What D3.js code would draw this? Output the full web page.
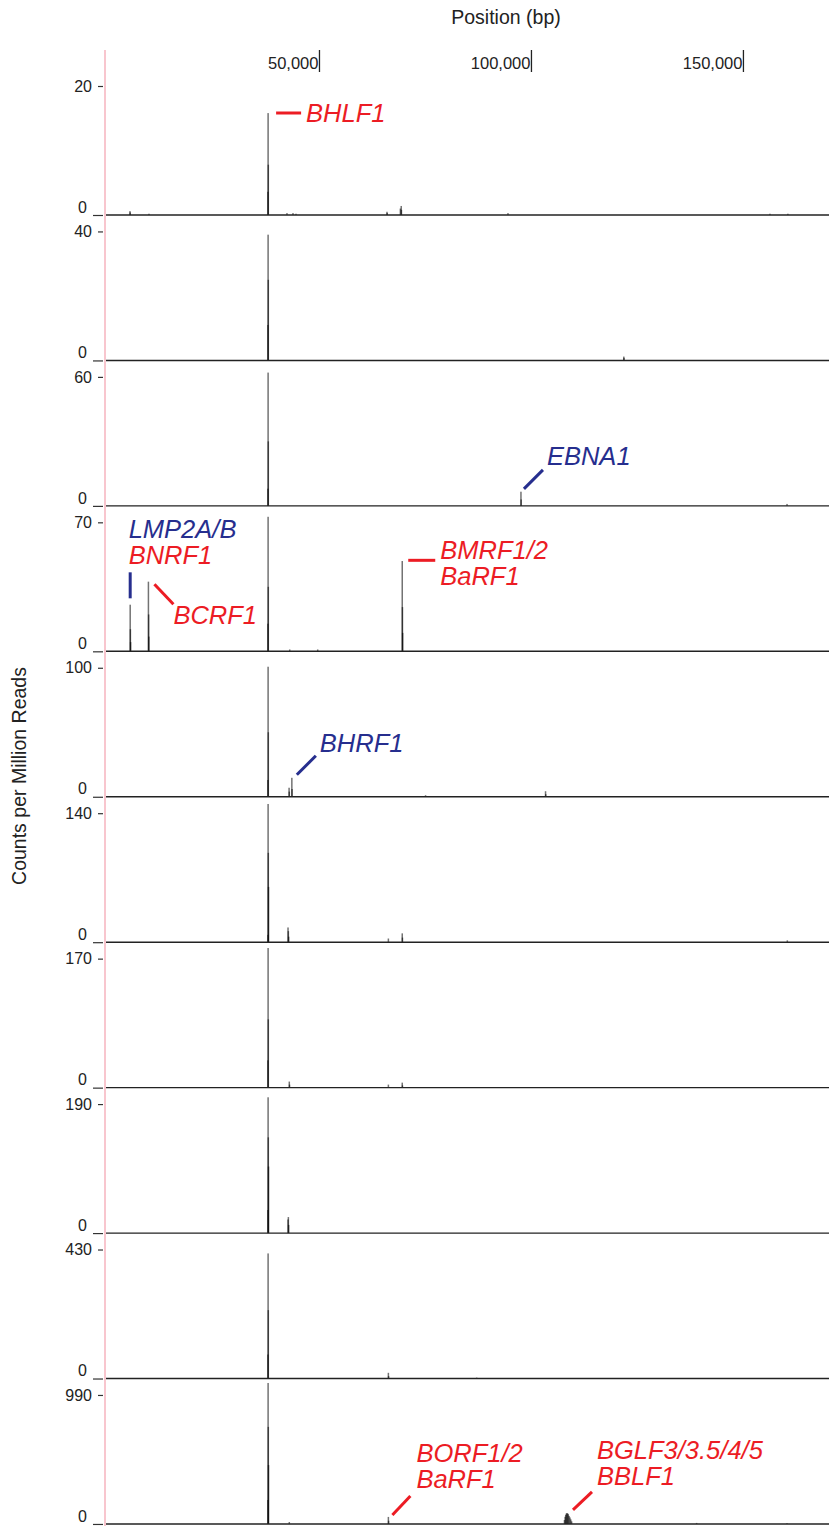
<!DOCTYPE html>
<html>
<head>
<meta charset="utf-8">
<script src="https://cdn.jsdelivr.net/npm/d3@7"></script>
<style>
  body { margin: 0; background: #fff; }
  svg { display: block; font-family: "Liberation Sans", Arial, sans-serif; }
</style>
</head>
<body>
<svg id="chart" width="829" height="1526"></svg>
<script>
// position ticks (bp)
var posTicks = [50000, 100000, 150000]
// max tick of each track
var trackMax = [20, 40, 60, 70, 100, 140, 170, 190, 430, 990]

// each track: [position (bp), counts per million]
var track1 = [[37950, 3.6], [38000, 15.8], [38050, 7.8], [5420, 0.6], [5470, 0.4], [9900, 0.2],
  [42450, 0.3], [43870, 0.3], [44580, 0.2], [66040, 0.5], [66090, 0.3], [69200, 1.0], [69400, 1.4],
  [69450, 0.8], [94580, 0.3], [156370, 0.2], [160600, 0.2]]
var track2 = [[37950, 11], [38000, 39], [38050, 25], [121900, 1.2], [121950, 0.8]]
var track3 = [[37950, 8], [38000, 62], [38050, 30], [97640, 6.6], [97690, 3], [160400, 0.9]]
var track4 = [[37950, 15], [38000, 73], [38050, 35], [5470, 25.3], [5520, 12], [5570, 5],
  [9770, 37.8], [9820, 20], [9870, 8], [43100, 1], [49700, 1],
  [69640, 49], [69690, 24], [69740, 10]]
var track5 = [[37950, 13], [38000, 100.8], [38050, 50], [42950, 7], [43000, 4],
  [43600, 14.7], [43650, 6], [75140, 1.2], [103440, 4.3], [103490, 2]]
var track6 = [[37950, 8], [38000, 150], [38050, 97], [38100, 60], [42700, 16], [42780, 12],
  [42850, 6], [66370, 4], [69640, 9.6], [69690, 5], [160470, 2]]
var track7 = [[37950, 36], [38000, 184], [38050, 90], [43000, 8], [43050, 4],
  [66370, 4], [69640, 6.6], [69690, 3]]
var track8 = [[37950, 34], [38000, 200], [38050, 141], [38100, 98], [42700, 20], [42780, 23.6],
  [42850, 12]]
var track9 = [[37950, 80], [38000, 417], [38050, 228], [66370, 19], [66420, 8], [87200, 3]]
var track10 = [[37950, 184], [38000, 1082], [38050, 745], [38100, 452], [43000, 15],
  [66370, 54], [66420, 25], [107900, 30], [108050, 55], [108200, 70], [108350, 80],
  [108500, 84], [108650, 80], [108800, 75], [109000, 62], [109200, 50], [109400, 35],
  [109600, 20], [139080, 8], [160400, 6]]
var tracks = [track1, track2, track3, track4, track5, track6, track7, track8, track9, track10]

// gene labels: track index, anchor bp, lines of text
var genes = [
  {track: 0, bp: 38000, lines: ["BHLF1"], color: "red"},
  {track: 3, bp: 5470, lines: ["LMP2A/B", "BNRF1"], color: "mixed"},
  {track: 3, bp: 9770, lines: ["BCRF1"], color: "red"},
  {track: 3, bp: 69640, lines: ["BMRF1/2", "BaRF1"], color: "red"},
  {track: 2, bp: 97640, lines: ["EBNA1"], color: "blue"},
  {track: 4, bp: 43600, lines: ["BHRF1"], color: "blue"},
  {track: 9, bp: 66370, lines: ["BORF1/2", "BaRF1"], color: "red"},
  {track: 9, bp: 108500, lines: ["BGLF3/3.5/4/5", "BBLF1"], color: "red"}
]

var RED = "#ec1c24", BLUE = "#262e8e"
var svg = d3.select("#chart")
var firstBase = 215, step = 145.44, trackH = 129

var x = d3.scaleLinear().domain([0, 170300]).range([107, 829])
var base = function(i) { return firstBase + i * step }

// top position axis
var posAxis = svg.append("g").attr("transform", "translate(0,50)")
  .call(d3.axisBottom(x).tickValues(posTicks).tickSize(22).tickFormat(d3.format(",")))
posAxis.select(".domain").remove()
posAxis.selectAll(".tick line").attr("stroke", "#222").attr("stroke-width", 1.3)
posAxis.selectAll(".tick text")
  .attr("text-anchor", "end").attr("x", -1).attr("y", 19).attr("dy", 0)
  .attr("font-size", 16.5).attr("fill", "#222")

svg.append("text").attr("x", 506).attr("y", 24).attr("text-anchor", "middle")
  .attr("font-size", 19.5).attr("fill", "#222").text("Position (bp)")

svg.append("text").attr("transform", "translate(26,776) rotate(-90)")
  .attr("text-anchor", "middle").attr("font-size", 19.5).attr("fill", "#222")
  .text("Counts per Million Reads")

// pink left rule
svg.append("line").attr("x1", 105).attr("x2", 105).attr("y1", 50).attr("y2", 1526)
  .attr("stroke", "#f6b3be").attr("stroke-width", 1.5)

tracks.forEach(function(data, i) {
  var b = base(i)
  var y = d3.scaleLinear().domain([0, trackMax[i]]).range([b, b - trackH])
  var g = svg.append("g")

  g.selectAll("rect").data(data).enter().append("rect")
    .attr("x", function(d) { return x(d[0]) - 0.75 })
    .attr("width", 1.5)
    .attr("y", function(d) { return y(d[1]) })
    .attr("height", function(d) { return b - y(d[1]) })
    .attr("fill", "#000").attr("fill-opacity", 0.55)

  g.append("line").attr("x1", 106).attr("x2", 829).attr("y1", b).attr("y2", b)
    .attr("stroke", "#222").attr("stroke-width", 1.4)

  var ax = svg.append("g").attr("transform", "translate(103,0)")
    .call(d3.axisLeft(y).tickValues([0, trackMax[i]]).tickSize(5).tickPadding(6))
  ax.select(".domain").remove()
  ax.selectAll(".tick line").attr("stroke", "#333").attr("stroke-width", 1.2)
  ax.selectAll(".tick text").attr("font-size", 16).attr("fill", "#222")
  // zero tick sits on the baseline, label raised
  ax.selectAll(".tick").filter(function(d) { return d === 0 })
    .each(function() {
      d3.select(this).select("line").attr("x2", -10)
      d3.select(this).select("text").attr("x", -16).attr("y", -8)
    })
})

// gene annotations (multi-line labels as one text with tspans)
function ital(gx, gy, lines, cols) {
  var t = svg.append("text").attr("x", gx).attr("y", gy).attr("font-size", 25.5)
    .attr("font-style", "italic")
  lines.forEach(function(s, k) {
    t.append("tspan").attr("x", gx).attr("dy", k === 0 ? 0 : 26)
      .attr("fill", cols[k] || cols[0]).text(s)
  })
  return t
}
function seg(x1, y1, x2, y2, col) {
  svg.append("line").attr("x1", x1).attr("y1", y1).attr("x2", x2).attr("y2", y2)
    .attr("stroke", col).attr("stroke-width", 3)
}

genes.forEach(function(gn) {
  var ax = x(gn.bp), b = base(gn.track)
  var col = gn.color === "blue" ? BLUE : RED
  switch (gn.lines[0]) {
    case "BHLF1":
      seg(ax + 8, b - 102, ax + 33, b - 102, col)
      ital(ax + 38, b - 93, gn.lines, [col])
      break
    case "LMP2A/B":
      seg(ax, b - 79, ax, b - 53, BLUE)
      ital(ax - 1.5, b - 113, gn.lines, [BLUE, RED])
      break
    case "BCRF1":
      seg(ax + 6, b - 67, ax + 25, b - 47, col)
      ital(ax + 25, b - 27, gn.lines, [col])
      break
    case "BMRF1/2":
      seg(ax + 6, b - 91, ax + 33, b - 91, col)
      ital(ax + 38, b - 92, gn.lines, [col])
      break
    case "EBNA1":
      seg(ax + 3, b - 17, ax + 22, b - 36, col)
      ital(ax + 26, b - 41, gn.lines, [col])
      break
    case "BHRF1":
      seg(ax + 5, b - 22, ax + 24, b - 41, col)
      ital(ax + 28, b - 45, gn.lines, [col])
      break
    case "BORF1/2":
      seg(ax + 4, b - 9, ax + 22, b - 28, col)
      ital(ax + 28, b - 62, gn.lines, [col])
      break
    default:
      seg(ax + 6, b - 14, ax + 25, b - 32, col)
      ital(ax + 30, b - 65, gn.lines, [col])
  }
})
</script>
</body>
</html>
